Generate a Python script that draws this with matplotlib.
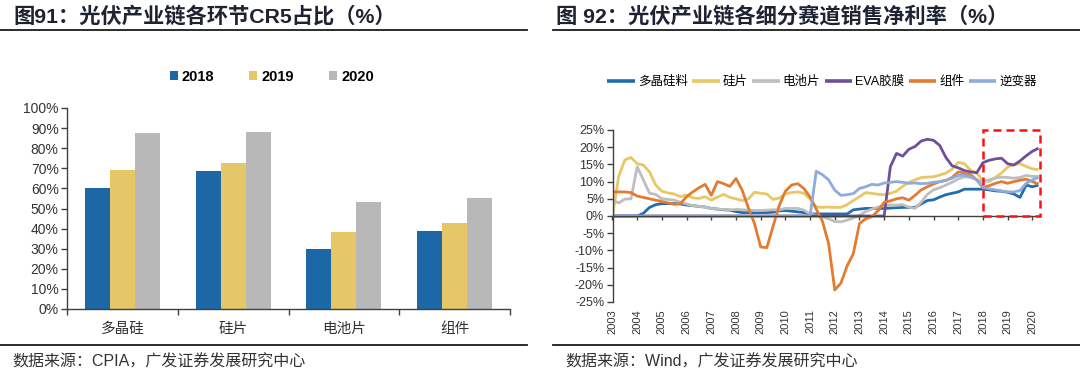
import matplotlib
matplotlib.use('Agg')
import matplotlib.pyplot as plt
import numpy as np
from matplotlib.patches import Rectangle
from matplotlib.lines import Line2D

FONTS = ['Liberation Sans', 'Noto Sans CJK SC', 'DejaVu Sans']
plt.rcParams['font.family'] = FONTS

# ---------------- Left chart data ----------------
bar_categories = ['多晶硅', '硅片', '电池片', '组件']
bar_years = ['2018', '2019', '2020']
cr5_2018 = [60.3, 68.6, 29.9, 38.7]
cr5_2019 = [69.1, 72.5, 38.1, 42.6]
cr5_2020 = [87.6, 88.1, 53.1, 55.4]
bar_yticks = [0, 10, 20, 30, 40, 50, 60, 70, 80, 90, 100]

# ---------------- Right chart data (quarterly, 2003Q1 - 2020Q2) ----------------
start_year = 2003
year_ticks = list(range(2003, 2021))
series_names = ['多晶硅料', '硅片', '电池片', 'EVA胶膜', '组件', '逆变器']
polysilicon = [0, 0, 0, 0, 0, 0.8, 2.5, 3.3, 3.6, 3.6, 3.6, 3.5, 3.2, 3.0, 2.8, 2.6,
               2.2, 2.0, 1.8, 1.7, 1.3, 1.0, 1.0, 1.0, 1.0, 1.0, 1.1, 1.5, 1.6, 1.4, 1.2, 1.0,
               0.6, 0.6, 0.6, 0.6, 0.6, 0.6, 0.6, 1.8, 2.0, 2.2, 2.2, 2.2, 2.2, 2.3, 2.4, 2.5,
               2.5, 2.5, 3.5, 4.5, 4.7, 5.5, 6.2, 6.6, 7.0, 7.8, 7.8, 7.8, 7.8, 7.6, 7.3, 7.2,
               6.9, 6.4, 5.4, 9.0, 8.5, 9.0]
wafer = [0, 11.5, 16.3, 17.0, 15.2, 14.8, 12.8, 9.0, 7.2, 6.7, 6.4, 5.6, 6.1, 5.3, 5.1, 5.6,
         4.6, 5.5, 6.3, 5.4, 5.0, 4.5, 5.0, 6.9, 6.6, 6.4, 4.8, 5.2, 6.5, 6.8, 7.0, 6.6,
         5.0, 2.6, 2.5, 2.6, 2.5, 2.5, 3.3, 4.5, 5.6, 6.8, 6.6, 6.3, 6.2, 6.6, 7.2, 8.6,
         9.8, 10.5, 11.2, 11.3, 11.4, 11.9, 12.5, 13.6, 15.6, 15.2, 13.3, 12.4, 10.4, 10.0, 11.2, 12.5,
         14.2, 15.0, 15.2, 14.4, 13.7, 13.5]
cell = [4.6, 3.8, 4.9, 5.0, 14.3, 10.5, 6.6, 6.3, 5.0, 4.8, 4.6, 4.0, 3.5, 3.0, 2.8, 2.6,
        2.2, 2.0, 1.9, 1.8, 1.9, 1.8, 1.7, 1.6, 1.6, 1.7, 1.8, 1.8, 2.2, 2.2, 2.2, 1.7,
        0.6, 0.2, -0.3, -0.8, -1.6, -1.7, -1.2, -0.6, 0.2, 1.3, 2.0, 2.6, 3.0, 3.2, 3.2, 3.3,
        2.6, 2.2, 4.0, 6.3, 7.6, 8.2, 9.0, 9.8, 10.8, 11.4, 11.2, 10.5, 10.0, 10.5, 11.0, 11.3,
        11.2, 11.0, 11.2, 11.8, 11.5, 11.5]
eva = [0] * 45 + [14.3, 18.2, 17.4, 19.4, 20.2, 21.8, 22.3, 22.0, 20.5, 17.0, 14.6,
                  14.0, 13.2, 12.8, 12.6, 15.5, 16.2, 16.6, 16.8, 15.2, 14.8, 16.0, 17.5, 18.8, 19.7]
module = [7.0, 7.0, 7.0, 6.8, 5.8, 5.4, 5.0, 4.6, 4.2, 3.8, 3.4, 3.6, 5.6, 7.0, 8.2, 9.2,
          6.0, 10.0, 9.4, 8.6, 10.9, 7.5, 2.4, -2.2, -9.0, -9.2, -3.0, 3.0, 7.2, 9.0, 9.4, 8.0,
          5.5, 2.0, -1.5, -8.0, -21.5, -19.5, -14.5, -11.0, -2.2, -0.8, -0.2, 1.5, 4.0, 4.4, 5.0, 5.3,
          4.6, 6.0, 7.6, 8.5, 9.3, 10.0, 10.3, 11.2, 12.8, 12.5, 12.0, 10.5, 8.2, 8.8, 9.5, 10.0,
          9.5, 10.0, 10.4, 10.7, 10.0, 9.3]
inverter = [0] * 33 + [13.0, 12.0, 10.5, 7.5, 6.0, 6.2, 6.5, 8.0, 8.5, 9.2, 9.0, 9.6, 9.8, 10.0,
                       9.8, 9.5, 9.6, 9.4, 9.5, 9.8, 10.0, 10.4, 11.0, 11.8, 11.8, 11.5, 10.6, 8.3,
                       7.9, 7.6, 7.3, 7.0, 7.0, 7.4, 9.5, 10.5, 11.2]
highlight_start, highlight_end = 2018, 2020.31

# ---------------- styles ----------------
bar_colors = ['#1C68A6', '#E5C767', '#B8B8B8']
line_colors = ['#1F6DB0', '#E8C766', '#BEBEBE', '#6E4F9B', '#E27C30', '#8FAADC']
AX = '#404040'
TXT = '#333333'
TITLE = '#1E2233'

fig = plt.figure(figsize=(10.8, 3.8), dpi=100)
W, H = 1080.0, 380.0

def fx(px):
    return px / W

def fy(py):
    return 1 - py / H

# titles and rules
fig.text(fx(13), fy(16), '图91：光伏产业链各环节CR5占比（%）', fontsize=15.3, fontweight='bold',
         color=TITLE, va='center', ha='left')
fig.text(fx(556), fy(16), '图 92：光伏产业链各细分赛道销售净利率（%）', fontsize=15.3, fontweight='bold',
         color=TITLE, va='center', ha='left')
for x0, x1 in [(0, 527), (553, 1080)]:
    fig.add_artist(Line2D([fx(x0), fx(x1)], [fy(30), fy(30)], color='#1a1a1a', lw=1.3))
    fig.add_artist(Line2D([fx(x0), fx(x1)], [fy(345), fy(345)], color='#1a1a1a', lw=1.3))
fig.text(fx(12), fy(362), '数据来源：CPIA，广发证券发展研究中心', fontsize=11.5, color=TXT,
         va='center', ha='left')
fig.text(fx(565), fy(362), '数据来源：Wind，广发证券发展研究中心', fontsize=11.5, color=TXT,
         va='center', ha='left')

# ---------------- Left: bar chart ----------------
axL = fig.add_axes([fx(67), fy(309), fx(510 - 67), (309 - 108) / H])
xc = np.arange(len(bar_categories))
bw = 0.225
for k, (vals, col, lab) in enumerate(zip([cr5_2018, cr5_2019, cr5_2020], bar_colors, bar_years)):
    axL.bar(xc + (k - 1) * bw, vals, bw, color=col, label=lab, linewidth=0)
axL.set_xlim(-0.5, len(bar_categories) - 0.5)
axL.set_ylim(0, 100)
axL.set_yticks(bar_yticks)
axL.set_yticklabels([f'{v}%' for v in bar_yticks])
axL.set_xticks(xc)
axL.set_xticklabels(bar_categories)
axL.set_xticks(np.arange(len(bar_categories) + 1) - 0.5, minor=True)
axL.tick_params(axis='x', which='major', length=0, pad=9, labelsize=10.5, labelcolor=TXT)
axL.tick_params(axis='x', which='minor', length=4, direction='out', color=AX, width=1)
axL.tick_params(axis='y', length=4, color=AX, labelsize=10, labelcolor=TXT, pad=2, width=1)
for s in ['top', 'right']:
    axL.spines[s].set_visible(False)
for s in ['left', 'bottom']:
    axL.spines[s].set_color(AX)
    axL.spines[s].set_linewidth(1)
fig.legend(*axL.get_legend_handles_labels(), loc='center', bbox_to_anchor=(fx(272), fy(77)),
           ncol=3, frameon=False, handlelength=0.55, handleheight=0.55, handletextpad=0.3,
           columnspacing=2.4, prop={'weight': 'bold', 'size': 10.5})

# ---------------- Right: line chart ----------------
axR = fig.add_axes([fx(612.5), fy(302), fx(1040 - 612.5), (302 - 130) / H])
n = len(polysilicon)
t = start_year + np.arange(n) / 4.0
all_series = [polysilicon, wafer, cell, eva, module, inverter]
for name, vals, col in zip(series_names, all_series, line_colors):
    axR.plot(t, vals, color=col, lw=2.0, label=name, solid_joinstyle='round', solid_capstyle='butt')
axR.set_xlim(start_year, highlight_end)
axR.set_ylim(-25, 25)
yt = list(range(-25, 26, 5))
axR.set_yticks(yt)
axR.set_yticklabels([f'{v}%' for v in yt])
axR.tick_params(axis='y', length=4, color=AX, labelsize=9, labelcolor=TXT, pad=2, width=1)
axR.spines['bottom'].set_position(('data', 0))
axR.set_xticks(year_ticks)
axR.tick_params(axis='x', labelbottom=False, length=3, direction='out', color=AX, width=1)
for s in ['top', 'right']:
    axR.spines[s].set_visible(False)
for s in ['left', 'bottom']:
    axR.spines[s].set_color(AX)
    axR.spines[s].set_linewidth(1)
sec = axR.secondary_xaxis(0.0)
sec.set_xticks(year_ticks)
sec.set_xticklabels([str(y) for y in year_ticks], rotation=90)
sec.tick_params(length=0, pad=5, labelsize=8, labelcolor=TXT)
sec.spines['bottom'].set_visible(False)

axR.add_patch(Rectangle((highlight_start, 0), highlight_end - highlight_start, 25, fill=False,
                        ec='#FF1010', lw=1.8, ls=(0, (3.2, 2)), clip_on=False, zorder=5))

hR, lR = axR.get_legend_handles_labels()
legR = fig.legend(hR, lR, loc='center', bbox_to_anchor=(fx(822), fy(82)), ncol=6, frameon=False,
                  handlelength=2.2, handletextpad=0.25, columnspacing=0.35, fontsize=9)
for lh in legR.get_lines():
    lh.set_linewidth(2.6)

fig.savefig('out.png', dpi=100)
